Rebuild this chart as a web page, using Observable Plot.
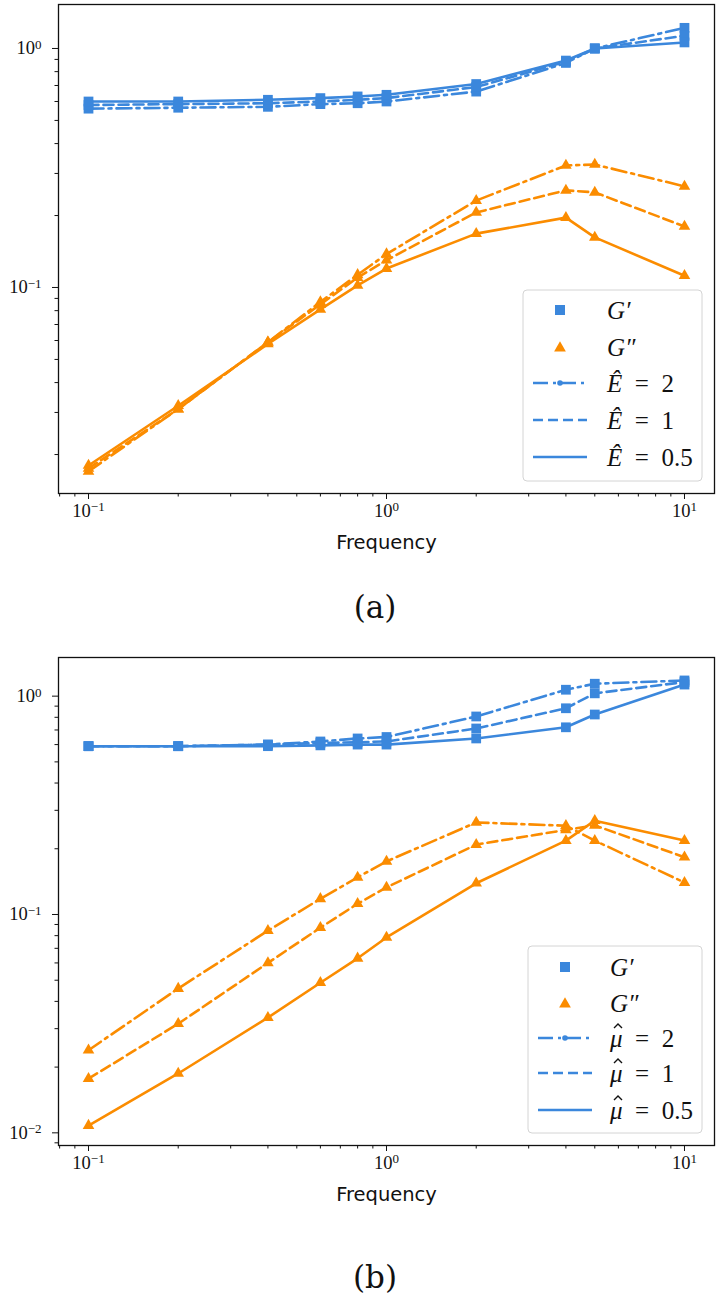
<!DOCTYPE html>
<html><head><meta charset="utf-8">
<script src="https://cdn.jsdelivr.net/npm/d3@7"></script>
<script src="https://cdn.jsdelivr.net/npm/@observablehq/plot@0.6"></script>
<style>
html,body{margin:0;padding:0;background:#fff;}
#root{position:relative;width:720px;height:1303px;overflow:hidden;background:#fff;}
.panel{position:absolute;left:0;}
.cap{position:absolute;width:100px;text-align:center;font-family:"DejaVu Serif",serif;font-size:31px;line-height:36px;color:#111;}
</style></head><body><div id="root"></div>
<script>
// ---------- data ----------
const freq = [0.1, 0.2, 0.4, 0.6, 0.8, 1, 2, 4, 5, 10];
const paramValues = ["2", "1", "0.5"];

// panel (a): E-hat = 2, 1, 0.5
const aGp2   = [0.56, 0.565, 0.57, 0.585, 0.59, 0.60, 0.66, 0.87, 1.0, 1.22];
const aGp1   = [0.58, 0.585, 0.59, 0.60, 0.61, 0.62, 0.69, 0.88, 1.0, 1.13];
const aGp05  = [0.60, 0.60, 0.61, 0.62, 0.63, 0.64, 0.71, 0.89, 1.0, 1.06];
const aGpp2  = [0.017, 0.031, 0.059, 0.087, 0.113, 0.138, 0.231, 0.324, 0.327, 0.265];
const aGpp1  = [0.0175, 0.031, 0.059, 0.085, 0.110, 0.130, 0.206, 0.255, 0.250, 0.180];
const aGpp05 = [0.018, 0.032, 0.058, 0.081, 0.102, 0.120, 0.168, 0.196, 0.162, 0.112];

// panel (b): mu-hat = 2, 1, 0.5
const bGp2   = [0.59, 0.59, 0.60, 0.62, 0.64, 0.65, 0.807, 1.07, 1.14, 1.18];
const bGp1   = [0.59, 0.59, 0.60, 0.61, 0.615, 0.62, 0.711, 0.88, 1.03, 1.16];
const bGp05  = [0.59, 0.59, 0.59, 0.595, 0.60, 0.60, 0.64, 0.72, 0.824, 1.13];
const bGpp2  = [0.0239, 0.0458, 0.0843, 0.118, 0.148, 0.175, 0.264, 0.255, 0.218, 0.140];
const bGpp1  = [0.0177, 0.0316, 0.060, 0.087, 0.112, 0.133, 0.209, 0.244, 0.256, 0.183];
const bGpp05 = [0.0108, 0.0187, 0.0337, 0.0487, 0.063, 0.0785, 0.139, 0.218, 0.269, 0.218];

// ticks (labels are 10^exponent)
const xTicks = [0.1, 1, 10];
const xTickExp = ["\u22121", "0", "1"];
const xMinor = [0.08, 0.09, 0.2, 0.3, 0.4, 0.5, 0.6, 0.7, 0.8, 0.9, 2, 3, 4, 5, 6, 7, 8, 9];
const yTicksA = [0.1, 1];
const yTickExpA = ["\u22121", "0"];
const yTicksB = [0.01, 0.1, 1];
const yTickExpB = ["\u22122", "\u22121", "0"];
const yMinorA = [0.02, 0.03, 0.04, 0.05, 0.06, 0.07, 0.08, 0.09, 0.2, 0.3, 0.4, 0.5, 0.6, 0.7, 0.8, 0.9];
const yMinorB = [0.009, ...yMinorA];

const xLabel = "Frequency";
const legendVarA = "\u00CA";
const legendVarB = "\u03BC";
const captions = ["(a)", "(b)"];

// ---------- styling ----------
const blue = "#3b87dc", orange = "#fb8c00";
const dashes = ["15,5,3,5", "10,5", undefined];
const SEP = "|";

const root = document.getElementById("root");

function toRows(vals) { return freq.map((f, i) => ({f, v: vals[i]})); }

function panel({top, height, mt, mb, yDom, gp, gpp, yTicks, yTickExp, yMinor}) {
  const marks = [];
  for (let k = 0; k < 3; k++) {
    const d1 = toRows(gp[k]), d2 = toRows(gpp[k]);
    marks.push(Plot.line(d1, {x: "f", y: "v", stroke: blue, strokeWidth: 2.6, strokeDasharray: dashes[k]}));
    marks.push(Plot.dot(d1, {x: "f", y: "v", symbol: "square", r: 5.5, fill: blue, stroke: "none"}));
    marks.push(Plot.line(d2, {x: "f", y: "v", stroke: orange, strokeWidth: 2.6, strokeDasharray: dashes[k]}));
    marks.push(Plot.dot(d2, {x: "f", y: "v", symbol: "triangle", r: 4.3, fill: orange, stroke: "none"}));
  }
  marks.push(Plot.frame({stroke: "#111", strokeWidth: 1.3}));
  marks.push(Plot.axisX({ticks: xTicks, tickSize: 6, tickPadding: 4, label: null,
    tickFormat: d => "10" + SEP + xTickExp[xTicks.indexOf(d)], fontSize: 18.5, fontFamily: "Liberation Serif"}));
  marks.push(Plot.axisX({ticks: xMinor, tickSize: 3.5, label: null, tickFormat: () => ""}));
  marks.push(Plot.axisY({ticks: yTicks, tickSize: 6, tickPadding: 11, label: null,
    tickFormat: d => "10" + SEP + yTickExp[yTicks.indexOf(d)], fontSize: 18.5, fontFamily: "Liberation Serif"}));
  marks.push(Plot.axisY({ticks: yMinor, tickSize: 3.5, label: null, tickFormat: () => ""}));
  marks.push(Plot.text([xLabel], {text: d => d, frameAnchor: "bottom", dy: 49, lineAnchor: "middle",
    fontSize: 19.5, fontFamily: "DejaVu Sans", fill: "#111"}));
  const svg = Plot.plot({
    width: 720, height, marginTop: mt, marginBottom: mb, marginLeft: 58, marginRight: 6,
    x: {type: "log", domain: [Math.pow(10, -1.1007), Math.pow(10, 1.1007)]},
    y: {type: "log", domain: yDom},
    style: {background: "transparent", color: "#111", overflow: "visible"},
    marks
  });
  // turn "10|e" tick labels into a base with a real superscript tspan
  svg.querySelectorAll("text").forEach(t => {
    const s = t.textContent;
    if (!s.includes(SEP)) return;
    const [base, ex] = s.split(SEP);
    while (t.firstChild) t.removeChild(t.firstChild);
    const ns = "http://www.w3.org/2000/svg";
    const a = document.createElementNS(ns, "tspan"); a.textContent = base;
    const b = document.createElementNS(ns, "tspan"); b.textContent = ex;
    b.setAttribute("dy", "-0.42em"); b.setAttribute("font-size", "13");
    t.appendChild(a); t.appendChild(b);
  });
  svg.classList.add("panel");
  svg.style.top = top + "px";
  root.appendChild(svg);
}

panel({top: 0, height: 560, mt: 4, mb: 67, yDom: [Math.pow(10, -1.862), Math.pow(10, 0.184)],
  gp: [aGp2, aGp1, aGp05], gpp: [aGpp2, aGpp1, aGpp05], yTicks: yTicksA, yTickExp: yTickExpA, yMinor: yMinorA});
panel({top: 640, height: 600, mt: 17, mb: 95, yDom: [Math.pow(10, -2.058), Math.pow(10, 0.177)],
  gp: [bGp2, bGp1, bGp05], gpp: [bGpp2, bGpp1, bGpp05], yTicks: yTicksB, yTickExp: yTickExpB, yMinor: yMinorB});

// ---------- legends ----------
const ov = d3.select("#root").append("svg").attr("width", 720).attr("height", 1303)
  .style("position", "absolute").style("left", 0).style("top", 0).style("pointer-events", "none");

function legend({x0, x1, y0, y1, rows, hx0, hx1, tx, varName, hatDx}) {
  const g = ov.append("g");
  g.append("rect").attr("x", x0).attr("y", y0).attr("width", x1 - x0).attr("height", y1 - y0)
    .attr("rx", 4).attr("fill", "white").attr("fill-opacity", 0.85).attr("stroke", "#d4d4d4").attr("stroke-width", 1);
  const mx = (hx0 + hx1) / 2;
  g.append("path").attr("d", d3.symbol(d3.symbolSquare, 100)()).attr("transform", `translate(${mx},${rows[0]})`).attr("fill", blue);
  g.append("path").attr("d", d3.symbol(d3.symbolTriangle, 60)()).attr("transform", `translate(${mx},${rows[1] + 1})`).attr("fill", orange);
  for (let k = 0; k < 3; k++) {
    const y = rows[k + 2];
    const l = g.append("line").attr("x1", hx0).attr("x2", hx1).attr("y1", y).attr("y2", y)
      .attr("stroke", blue).attr("stroke-width", 2.6);
    if (dashes[k]) l.attr("stroke-dasharray", dashes[k]);
    if (k === 0) g.append("circle").attr("cx", mx).attr("cy", y).attr("r", 2.8).attr("fill", blue);
  }
  const ff = "Liberation Serif";
  const gl = ["G\u2032", "G\u2033"];
  for (let i = 0; i < 5; i++) {
    const t = g.append("text").attr("x", tx).attr("y", rows[i]).attr("dy", "0.35em")
      .style("font-family", ff).style("font-size", "25px").attr("fill", "#111");
    if (i < 2) {
      t.append("tspan").style("font-style", "italic").text(gl[i]);
    } else {
      t.append("tspan").style("font-style", "italic").text(varName);
      t.append("tspan").text("\u2002=\u2002" + paramValues[i - 2]);
      if (hatDx != null) {
        const hx = tx + hatDx, hy = rows[i] - 13;
        g.append("path").attr("d", `M${hx - 4},${hy + 3}L${hx},${hy - 1}L${hx + 4},${hy + 3}`)
          .attr("fill", "none").attr("stroke", "#111").attr("stroke-width", 1.4);
      }
    }
  }
}
legend({x0: 523, x1: 702, y0: 290, y1: 481, rows: [310, 347, 383, 420, 457], hx0: 533, hx1: 587, tx: 607, varName: legendVarA, hatDx: null});
legend({x0: 528, x1: 702, y0: 946, y1: 1133, rows: [967, 1003, 1038, 1073, 1110], hx0: 538, hx1: 592, tx: 610, varName: legendVarB, hatDx: 8});

// ---------- captions ----------
[[captions[0], 589], [captions[1], 1259]].forEach(([t, y]) => {
  const d = document.createElement("div");
  d.className = "cap"; d.textContent = t;
  d.style.left = (375 - 50) + "px"; d.style.top = y + "px";
  root.appendChild(d);
});
</script></body></html>
